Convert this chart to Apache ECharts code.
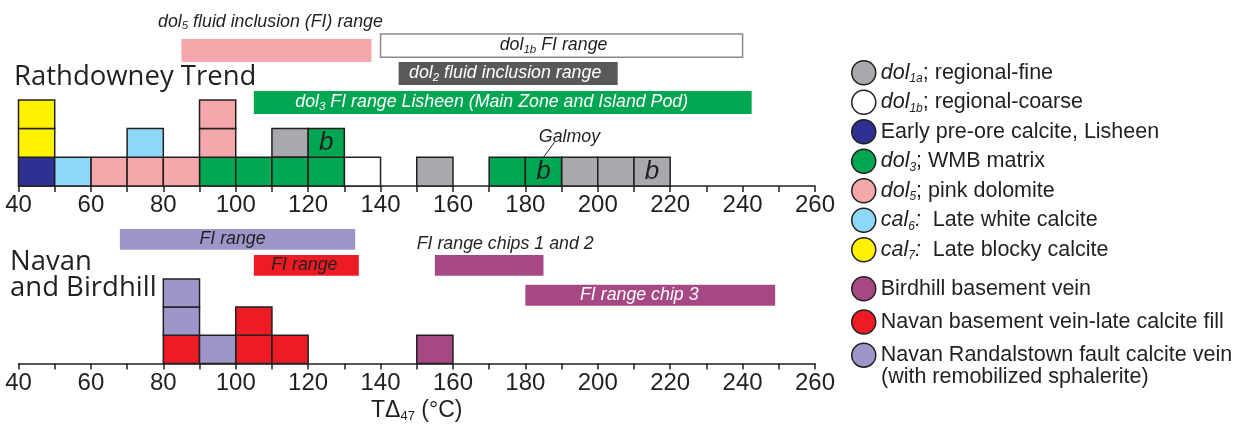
<!DOCTYPE html>
<html>
<head>
<meta charset="utf-8">
<script src="https://cdn.jsdelivr.net/npm/echarts@6/dist/echarts.min.js"></script>
<style>
html, body { margin: 0; padding: 0; background: #fff; }
#chart { width: 1240px; height: 424px; }
</style>
</head>
<body>
<div id="chart"></div>
<script>
var ink = '#231f20';
var font = '"Liberation Sans", Arial, sans-serif';

// x scale (°C) and bin width of the histograms
var axisMin = 40, axisMax = 260, axisStep = 10, labelStep = 20;
var binWidth = 10;

// Rathdowney Trend - one entry per sample, value = lower edge of its bin
var earlyCalcite = [40];
var dol3 = [90, 100, 110, 120, 170];
var dol3B = [120, 180];          // boxes marked "b"
var dol5 = [60, 70, 80, 90, 90];
var dol1a = [110, 150, 190, 200];
var dol1aB = [210];              // box marked "b"
var dol1b = [130];
var cal6 = [50, 70];
var cal7 = [40, 40];
var galmoyBin = 180;

// Navan and Birdhill
var navanLate = [80, 100, 100, 110];
var navanRand = [80, 80, 90];
var birdhill = [150];

// fluid inclusion ranges (°C)
var topRangeLabels = [
    '{i|dol}{s|5}{i| fluid inclusion (FI) range}',
    '{i|dol}{s|1b}{i| FI range}',
    '{i|dol}{s|2}{i| fluid inclusion range}',
    '{i|dol}{s|3}{i| FI range Lisheen (Main Zone and Island Pod)}'
];
var topRangeMin = [85, 140, 145, 105];
var topRangeMax = [137.5, 240, 205.5, 242.5];

var botRangeLabels = [
    '{i|FI range}',
    '{i|FI range}',
    '{i|FI range chips 1 and 2}',
    '{i|FI range chip 3}'
];
var botRangeMin = [68, 105, 155, 180];
var botRangeMax = [133, 134, 185, 249];

// legend names
var namesTop = ['dol1a; regional-fine', 'dol1b; regional-coarse', 'Early pre-ore calcite, Lisheen',
    'dol3; WMB matrix', 'dol5; pink dolomite', 'cal6:  Late white calcite', 'cal7:  Late blocky calcite'];
var namesBot = ['Birdhill basement vein', 'Navan basement vein-late calcite fill',
    'Navan Randalstown fault calcite vein'];

var richNames = {
    'dol1a; regional-fine': '{i|dol}{s|1a}{n|; regional-fine}',
    'dol1b; regional-coarse': '{i|dol}{s|1b}{n|; regional-coarse}',
    'Early pre-ore calcite, Lisheen': '{n|Early pre-ore calcite, Lisheen}',
    'dol3; WMB matrix': '{i|dol}{s|3}{n|; WMB matrix}',
    'dol5; pink dolomite': '{i|dol}{s|5}{n|; pink dolomite}',
    'cal6:  Late white calcite': '{i|cal}{s|6}{i|:}{n|  Late white calcite}',
    'cal7:  Late blocky calcite': '{i|cal}{s|7}{i|:}{n|  Late blocky calcite}'
};

var colors = {
    'dol1a; regional-fine': '#a7a9ac',
    'dol1b; regional-coarse': '#ffffff',
    'Early pre-ore calcite, Lisheen': '#2e3192',
    'dol3; WMB matrix': '#00a651',
    'dol5; pink dolomite': '#f5a8ac',
    'cal6:  Late white calcite': '#8dd8f8',
    'cal7:  Late blocky calcite': '#fff200',
    'Birdhill basement vein': '#a64884',
    'Navan basement vein-late calcite fill': '#ed1c24',
    'Navan Randalstown fault calcite vein': '#9d96c9'
};

// range bar looks: lane = [y bottom, y top] in box units
var topLanes = [[4.32, 5.12], [4.49, 5.30], [3.52, 4.32], [2.51, 3.31]];
var topLooks = [
    { fill: '#f5a8ac', text: ink, above: true, dx: -6, dy: 17 },
    { fill: '#ffffff', stroke: '#8a8a8a', text: ink, dx: -8 },
    { fill: '#58595b', text: '#ffffff', dx: -3 },
    { fill: '#00a651', text: '#ffffff', dx: -11 }
];
var botLanes = [[4.03, 4.77], [3.11, 3.85], [3.11, 3.85], [2.05, 2.79]];
var botLooks = [
    { fill: '#9d96c9', text: ink, dx: -5 },
    { fill: '#ed1c24', text: ink, dx: -2 },
    { fill: '#a64884', text: ink, above: true, dx: 16, dy: 11 },
    { fill: '#a64884', text: '#ffffff', dx: -11 }
];

function stack(groups) {
    var height = {};
    var out = {};
    groups.forEach(function (g) {
        out[g[0]] = out[g[0]] || [];
        g[1].forEach(function (x) {
            var row = height[x] || 0;
            out[g[0]].push([x, x + binWidth, row, g[2] ? 1 : 0]);
            height[x] = row + 1;
        });
    });
    return out;
}

var boxesTop = stack([
    ['Early pre-ore calcite, Lisheen', earlyCalcite],
    ['dol3; WMB matrix', dol3],
    ['dol3; WMB matrix', dol3B, true],
    ['dol5; pink dolomite', dol5],
    ['dol1a; regional-fine', dol1a],
    ['dol1a; regional-fine', dol1aB, true],
    ['dol1b; regional-coarse', dol1b],
    ['cal6:  Late white calcite', cal6],
    ['cal7:  Late blocky calcite', cal7]
]);
var boxesBot = stack([
    ['Navan basement vein-late calcite fill', navanLate],
    ['Navan Randalstown fault calcite vein', navanRand],
    ['Birdhill basement vein', birdhill]
]);

var galmoyPoint = [galmoyBin + binWidth / 2, 0];
boxesTop['dol3; WMB matrix'].forEach(function (b) {
    if (b[0] === galmoyBin && b[3]) galmoyPoint[1] = b[2] + 1;
});

function renderBox(params, api) {
    var a = api.coord([api.value(0), api.value(2)]);
    var b = api.coord([api.value(1), api.value(2) + 1]);
    var rect = {
        type: 'rect',
        shape: { x: a[0], y: b[1], width: b[0] - a[0], height: a[1] - b[1] },
        style: { fill: colors[params.seriesName], stroke: ink, lineWidth: 1.5 }
    };
    if (!api.value(3)) return rect;
    return {
        type: 'group',
        children: [rect, {
            type: 'text',
            style: {
                text: 'b', x: (a[0] + b[0]) / 2, y: (a[1] + b[1]) / 2,
                align: 'center', verticalAlign: 'middle',
                font: 'italic 26px ' + font, fill: ink
            }
        }]
    };
}

var richLabel = {
    i: { fontStyle: 'italic', fontSize: 17.8, fontFamily: font, lineHeight: 20 },
    s: { fontStyle: 'italic', fontSize: 11.5, fontFamily: font, lineHeight: 8, verticalAlign: 'bottom' }
};

function rangeRenderer(labels, lanes, looks) {
    return function (params, api) {
        var i = params.dataIndex, lane = lanes[i], look = looks[i];
        var p0 = api.coord([api.value(0), lane[0]]);
        var p1 = api.coord([api.value(1), lane[1]]);
        var cx = (p0[0] + p1[0]) / 2 + (look.dx || 0);
        var ty = look.above ? p1[1] - look.dy : (p0[1] + p1[1]) / 2;
        return {
            type: 'group',
            children: [{
                type: 'rect',
                shape: { x: p0[0], y: p1[1], width: p1[0] - p0[0], height: p0[1] - p1[1] },
                style: { fill: look.fill, stroke: look.stroke || null, lineWidth: 1.5 }
            }, {
                type: 'text',
                style: {
                    text: labels[i], x: cx, y: ty, align: 'center', verticalAlign: 'middle',
                    fill: look.text, rich: richLabel
                }
            }]
        };
    };
}

function renderGalmoy(params, api) {
    var p = api.coord([api.value(0), api.value(1)]);
    return {
        type: 'group',
        children: [{
            type: 'line',
            shape: { x1: p[0], y1: p[1], x2: p[0] + 11, y2: p[1] - 15 },
            style: { stroke: ink, lineWidth: 1 }
        }, {
            type: 'text',
            style: {
                text: 'Galmoy', x: p[0] + 26, y: p[1] - 20, align: 'center', verticalAlign: 'middle',
                font: 'italic 17.8px ' + font, fill: ink
            }
        }]
    };
}

function xAxis(idx, margin, extra) {
    var ax = {
        type: 'value', gridIndex: idx, min: axisMin, max: axisMax, interval: axisStep,
        axisLine: { onZero: false, lineStyle: { color: ink, width: 1.5 } },
        axisTick: { length: 6, lineStyle: { color: ink, width: 1.5 } },
        splitLine: { show: false },
        axisLabel: {
            margin: margin, color: ink, fontSize: 24, fontFamily: font,
            formatter: function (v) { return v % labelStep === 0 ? v : ''; }
        }
    };
    return Object.assign(ax, extra || {});
}

var series = [];
namesTop.forEach(function (n) {
    series.push({
        type: 'custom', name: n, xAxisIndex: 0, yAxisIndex: 0,
        itemStyle: { color: colors[n] },
        data: boxesTop[n], renderItem: renderBox
    });
});
namesBot.forEach(function (n) {
    series.push({
        type: 'custom', name: n, xAxisIndex: 1, yAxisIndex: 1,
        itemStyle: { color: colors[n] },
        data: boxesBot[n], renderItem: renderBox
    });
});
series.push({
    type: 'custom', name: 'top ranges', xAxisIndex: 0, yAxisIndex: 0,
    data: topRangeMin.map(function (v, i) { return [v, topRangeMax[i]]; }),
    renderItem: rangeRenderer(topRangeLabels, topLanes, topLooks)
});
series.push({
    type: 'custom', name: 'bottom ranges', xAxisIndex: 1, yAxisIndex: 1,
    data: botRangeMin.map(function (v, i) { return [v, botRangeMax[i]]; }),
    renderItem: rangeRenderer(botRangeLabels, botLanes, botLooks)
});
series.push({
    type: 'custom', name: 'Galmoy', xAxisIndex: 0, yAxisIndex: 0,
    data: [galmoyPoint], renderItem: renderGalmoy
});

var legendRich = {
    i: { fontStyle: 'italic', fontSize: 21.5, fontFamily: font, color: ink, lineHeight: 24 },
    s: { fontStyle: 'italic', fontSize: 12, fontFamily: font, color: ink, lineHeight: 10, verticalAlign: 'bottom' },
    n: { fontSize: 21.5, fontFamily: font, color: ink, lineHeight: 24 }
};

function legend(names, top, gap) {
    return {
        data: names, orient: 'vertical', left: 851, top: top, padding: 0,
        itemGap: gap, itemWidth: 24, itemHeight: 24, icon: 'circle',
        selectedMode: false,
        itemStyle: { borderColor: ink, borderWidth: 1.5 },
        formatter: function (n) { return richNames[n] || '{n|' + n + '}'; },
        textStyle: { rich: legendRich }
    };
}

var chart = echarts.init(document.getElementById('chart'));
chart.setOption({
    animation: false,
    backgroundColor: '#ffffff',
    title: [{
        text: 'Rathdowney Trend', left: 14, top: 62, padding: 0,
        textStyle: { fontFamily: 'Open Sans', fontSize: 27.5, fontWeight: 'normal', color: ink, lineHeight: 30 }
    }, {
        text: 'Navan\nand Birdhill', left: 10, top: 249, padding: 0,
        textStyle: { fontFamily: 'Open Sans', fontSize: 27.5, fontWeight: 'normal', color: ink, lineHeight: 26 }
    }],
    legend: [legend(namesTop, 60, 4), legend(namesBot, 276, 7.7)],
    graphic: [{
        type: 'text', left: 881, top: 366,
        style: { text: '(with remobilized sphalerite)', font: '21.5px ' + font, fill: ink }
    }],
    grid: [
        { left: 18.5, right: 425, top: 0, bottom: 238 },
        { left: 18.5, right: 425, top: 210, bottom: 60 }
    ],
    xAxis: [
        xAxis(0, 7),
        xAxis(1, 8, {
            name: '{t|TΔ}{s|47}{t| (°C)}', nameLocation: 'middle', nameGap: 35.5,
            nameTextStyle: {
                rich: {
                    t: { fontSize: 23, fontFamily: font, color: ink, lineHeight: 24 },
                    s: { fontSize: 13, fontFamily: font, color: ink, lineHeight: 4, verticalAlign: 'bottom' }
                }
            }
        })
    ],
    yAxis: [
        { type: 'value', gridIndex: 0, min: 0, max: 186 / 28.7, show: false },
        { type: 'value', gridIndex: 1, min: 0, max: 154 / 28.3, show: false }
    ],
    series: series
});
</script>
</body>
</html>
